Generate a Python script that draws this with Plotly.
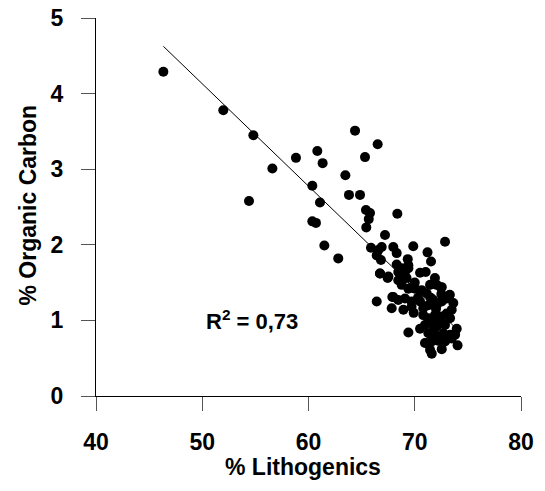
import plotly.graph_objects as go
import numpy as np

# % Lithogenics (x) and % Organic Carbon (y)
lithogenics = [
    46.34, 51.98, 54.81, 56.60, 54.40, 58.82, 60.83, 61.33, 64.38, 66.51,
    65.32, 63.47, 60.36, 63.81, 64.85, 61.08, 60.36, 60.70, 61.49, 65.41,
    65.79, 65.67, 65.44, 62.80, 67.20, 68.36, 72.85,
    65.88, 66.57, 66.89, 66.42, 66.82, 67.98, 68.30, 69.86, 71.20, 71.53,
    69.34, 69.40, 68.30, 68.77, 68.45, 69.08, 69.40, 66.73, 67.52, 70.50,
    71.03, 68.45, 69.23, 68.77, 69.40, 70.02, 71.90, 71.44, 72.06, 72.54,
    69.70, 70.65, 71.12, 73.30, 66.42, 67.98, 68.45, 69.08, 69.70, 67.83,
    68.93, 69.70, 70.50, 70.80, 71.28, 71.75, 72.06, 72.54, 73.00, 73.63,
    73.48, 70.80, 71.28, 71.90, 72.54, 73.00, 73.32, 70.96, 71.60, 72.06,
    72.85, 70.50, 69.40, 73.95, 71.28, 71.90, 72.69, 73.32, 73.80, 71.12,
    71.60, 72.20, 72.85, 73.48, 74.03, 71.44, 72.54, 71.60, 72.44, 73.25,
    71.50, 72.00, 72.30, 71.80, 72.50, 70.00, 70.30, 69.90, 68.80, 70.96,
    67.89, 67.45, 66.73,
]
organic_carbon = [
    4.29, 3.78, 3.45, 3.01, 2.58, 3.15, 3.24, 3.08, 3.51, 3.33,
    3.16, 2.92, 2.78, 2.66, 2.66, 2.56, 2.31, 2.29, 1.99, 2.46,
    2.42, 2.34, 2.23, 1.82, 2.13, 2.41, 2.04,
    1.96, 1.93, 1.97, 1.86, 1.80, 1.97, 1.89, 1.98, 1.90, 1.78,
    1.81, 1.73, 1.74, 1.69, 1.64, 1.64, 1.69, 1.62, 1.58, 1.63,
    1.64, 1.53, 1.56, 1.47, 1.42, 1.42, 1.56, 1.47, 1.47, 1.44,
    1.44, 1.40, 1.36, 1.34, 1.25, 1.31, 1.27, 1.29, 1.25, 1.16,
    1.14, 1.18, 1.25, 1.16, 1.20, 1.27, 1.20, 1.25, 1.29, 1.23,
    1.14, 1.07, 1.03, 1.07, 1.05, 1.09, 1.03, 0.94, 0.96, 0.92,
    0.94, 0.89, 0.84, 0.89, 0.83, 0.81, 0.83, 0.81, 0.81, 0.70,
    0.72, 0.73, 0.72, 0.76, 0.67, 0.61, 0.62, 0.56, 1.44, 1.33,
    1.30, 1.15, 1.00, 0.88, 1.35, 1.50, 1.30, 1.10, 1.55, 0.70,
    1.31, 1.56, 1.62,
]

# Linear trend
trend_intercept = 10.90
trend_slope = -0.1354
r2_label = "R<sup>2</sup> = 0,73"

x_ticks = [40, 50, 60, 70, 80]
y_ticks = [0, 1, 2, 3, 4, 5]

FONT = "Liberation Sans, Arial, sans-serif"

fig = go.Figure()

tx = np.array([min(lithogenics), max(lithogenics)])
fig.add_trace(go.Scatter(
    x=tx, y=trend_intercept + trend_slope * tx,
    mode="lines", line=dict(color="black", width=1),
    hoverinfo="skip", showlegend=False,
))

fig.add_trace(go.Scatter(
    x=lithogenics, y=organic_carbon, mode="markers",
    marker=dict(color="black", size=10, line=dict(width=0)),
    showlegend=False,
))

fig.add_annotation(
    x=54.7, y=1.0, xref="x", yref="y", text=r2_label, showarrow=False,
    font=dict(family=FONT, size=22, color="black", weight="bold"),
)
fig.add_annotation(
    x=0.486, y=-0.188, xref="paper", yref="paper", text="% Lithogenics",
    showarrow=False, xanchor="center", yanchor="middle",
    font=dict(family=FONT, size=23, color="black", weight="bold"),
)
fig.add_annotation(
    x=-0.16, y=0.504, xref="paper", yref="paper", text="% Organic Carbon",
    showarrow=False, xanchor="center", yanchor="middle", textangle=-90,
    font=dict(family=FONT, size=23, color="black", weight="bold"),
)

axis_common = dict(
    showgrid=False, zeroline=False, showline=True, linecolor="black",
    linewidth=1, ticks="outside", ticklen=14, tickwidth=1, tickcolor="#555555",
    tickfont=dict(family=FONT, size=23, color="black", weight="bold"),
)
fig.update_xaxes(range=[40, 80], tickvals=x_ticks, ticklabelstandoff=11,
                 **axis_common)
fig.update_yaxes(range=[0, 5], tickvals=y_ticks, ticklabelstandoff=13,
                 **axis_common)

fig.update_layout(
    width=545, height=491,
    margin=dict(l=96, r=24, t=18, b=95, autoexpand=False),
    plot_bgcolor="white", paper_bgcolor="white",
    font=dict(family=FONT, color="black"),
)

fig.write_html("out.html")
